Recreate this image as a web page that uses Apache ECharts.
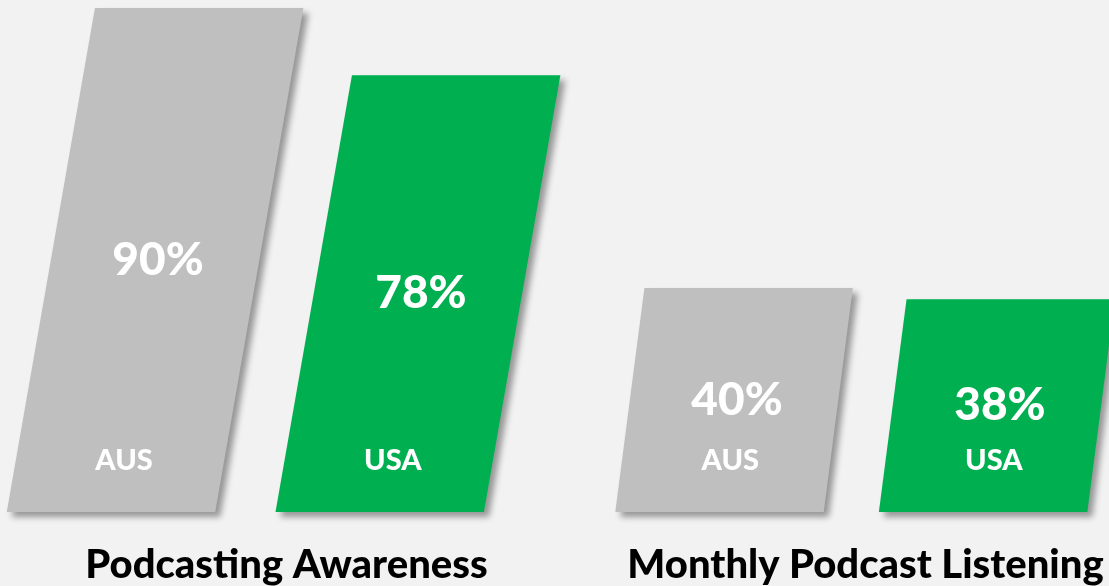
<!DOCTYPE html>
<html>
<head>
<meta charset="utf-8">
<script src="https://cdn.jsdelivr.net/npm/echarts@6/dist/echarts.min.js"></script>
<style>
html,body{margin:0;padding:0;background:#f2f2f2;}
#chart{width:1109px;height:586px;}
</style>
</head>
<body>
<div id="chart"></div>
<script>
// ---- data ----
const groups = ['Podcasting Awareness', 'Monthly Podcast Listening'];
const countries = ['AUS', 'USA'];
const ausValues = [90, 40];
const usaValues = [78, 38];

// ---- styles ----
const COLORS = ['#bfbfbf', '#00b050'];
const SLANT = [0.175, 0.13];      // skew per group (px of horizontal shift per px of height)
const FONT = 'Lato, "Open Sans", sans-serif';

const chart = echarts.init(document.getElementById('chart'));

function makeRender(side, colorIdx, name) {
  return function (params, api) {
    const g = api.value(0);
    const v = api.value(1);
    const base = api.coord([g, 0]);
    const top = api.coord([g, v]);
    const band = api.size([1, 0])[0];
    const cx = base[0];
    const baseY = base[1];
    const topY = top[1];
    const h = baseY - topY;
    const s = SLANT[g];
    const w = band * 0.36;
    const midX = cx + side * band * 0.227;
    const bc = midX - s * h / 2;
    const tc = midX + s * h / 2;
    const midY = (baseY + topY) / 2;
    return {
      type: 'group',
      children: [
        {
          type: 'polygon',
          shape: { points: [[bc - w / 2, baseY], [bc + w / 2, baseY], [tc + w / 2, topY], [tc - w / 2, topY]] },
          style: {
            fill: COLORS[colorIdx],
            shadowBlur: 6,
            shadowOffsetX: 5,
            shadowOffsetY: 5,
            shadowColor: 'rgba(0,0,0,0.38)'
          }
        },
        {
          type: 'text',
          x: midX + 3, y: midY,
          style: {
            text: v + '%', fill: '#ffffff', font: '900 46px ' + FONT,
            align: 'center', verticalAlign: 'middle'
          }
        },
        {
          type: 'text',
          x: bc + s * 52 + 4, y: baseY - 51,
          style: {
            text: name, fill: '#ffffff', font: '900 29px ' + FONT,
            align: 'center', verticalAlign: 'middle'
          }
        }
      ]
    };
  };
}

chart.setOption({
  backgroundColor: '#f2f2f2',
  animation: false,
  grid: { left: -3, right: -46, top: 8, bottom: 74, containLabel: false, outerBoundsMode: 'none' },
  xAxis: {
    type: 'category',
    data: groups,
    axisLine: { show: false },
    axisTick: { show: false },
    axisLabel: {
      interval: 0,
      margin: 33,
      color: '#000000',
      fontFamily: FONT,
      fontWeight: 900,
      fontSize: 40
    }
  },
  yAxis: { type: 'value', min: 0, max: 90, show: false, splitLine: { show: false } },
  series: [
    {
      name: countries[0], type: 'custom', clip: false,
      renderItem: makeRender(-1, 0, countries[0]),
      encode: { x: 0, y: 1 },
      data: ausValues.map((v, i) => [i, v])
    },
    {
      name: countries[1], type: 'custom', clip: false,
      renderItem: makeRender(1, 1, countries[1]),
      encode: { x: 0, y: 1 },
      data: usaValues.map((v, i) => [i, v])
    }
  ]
});
</script>
</body>
</html>
